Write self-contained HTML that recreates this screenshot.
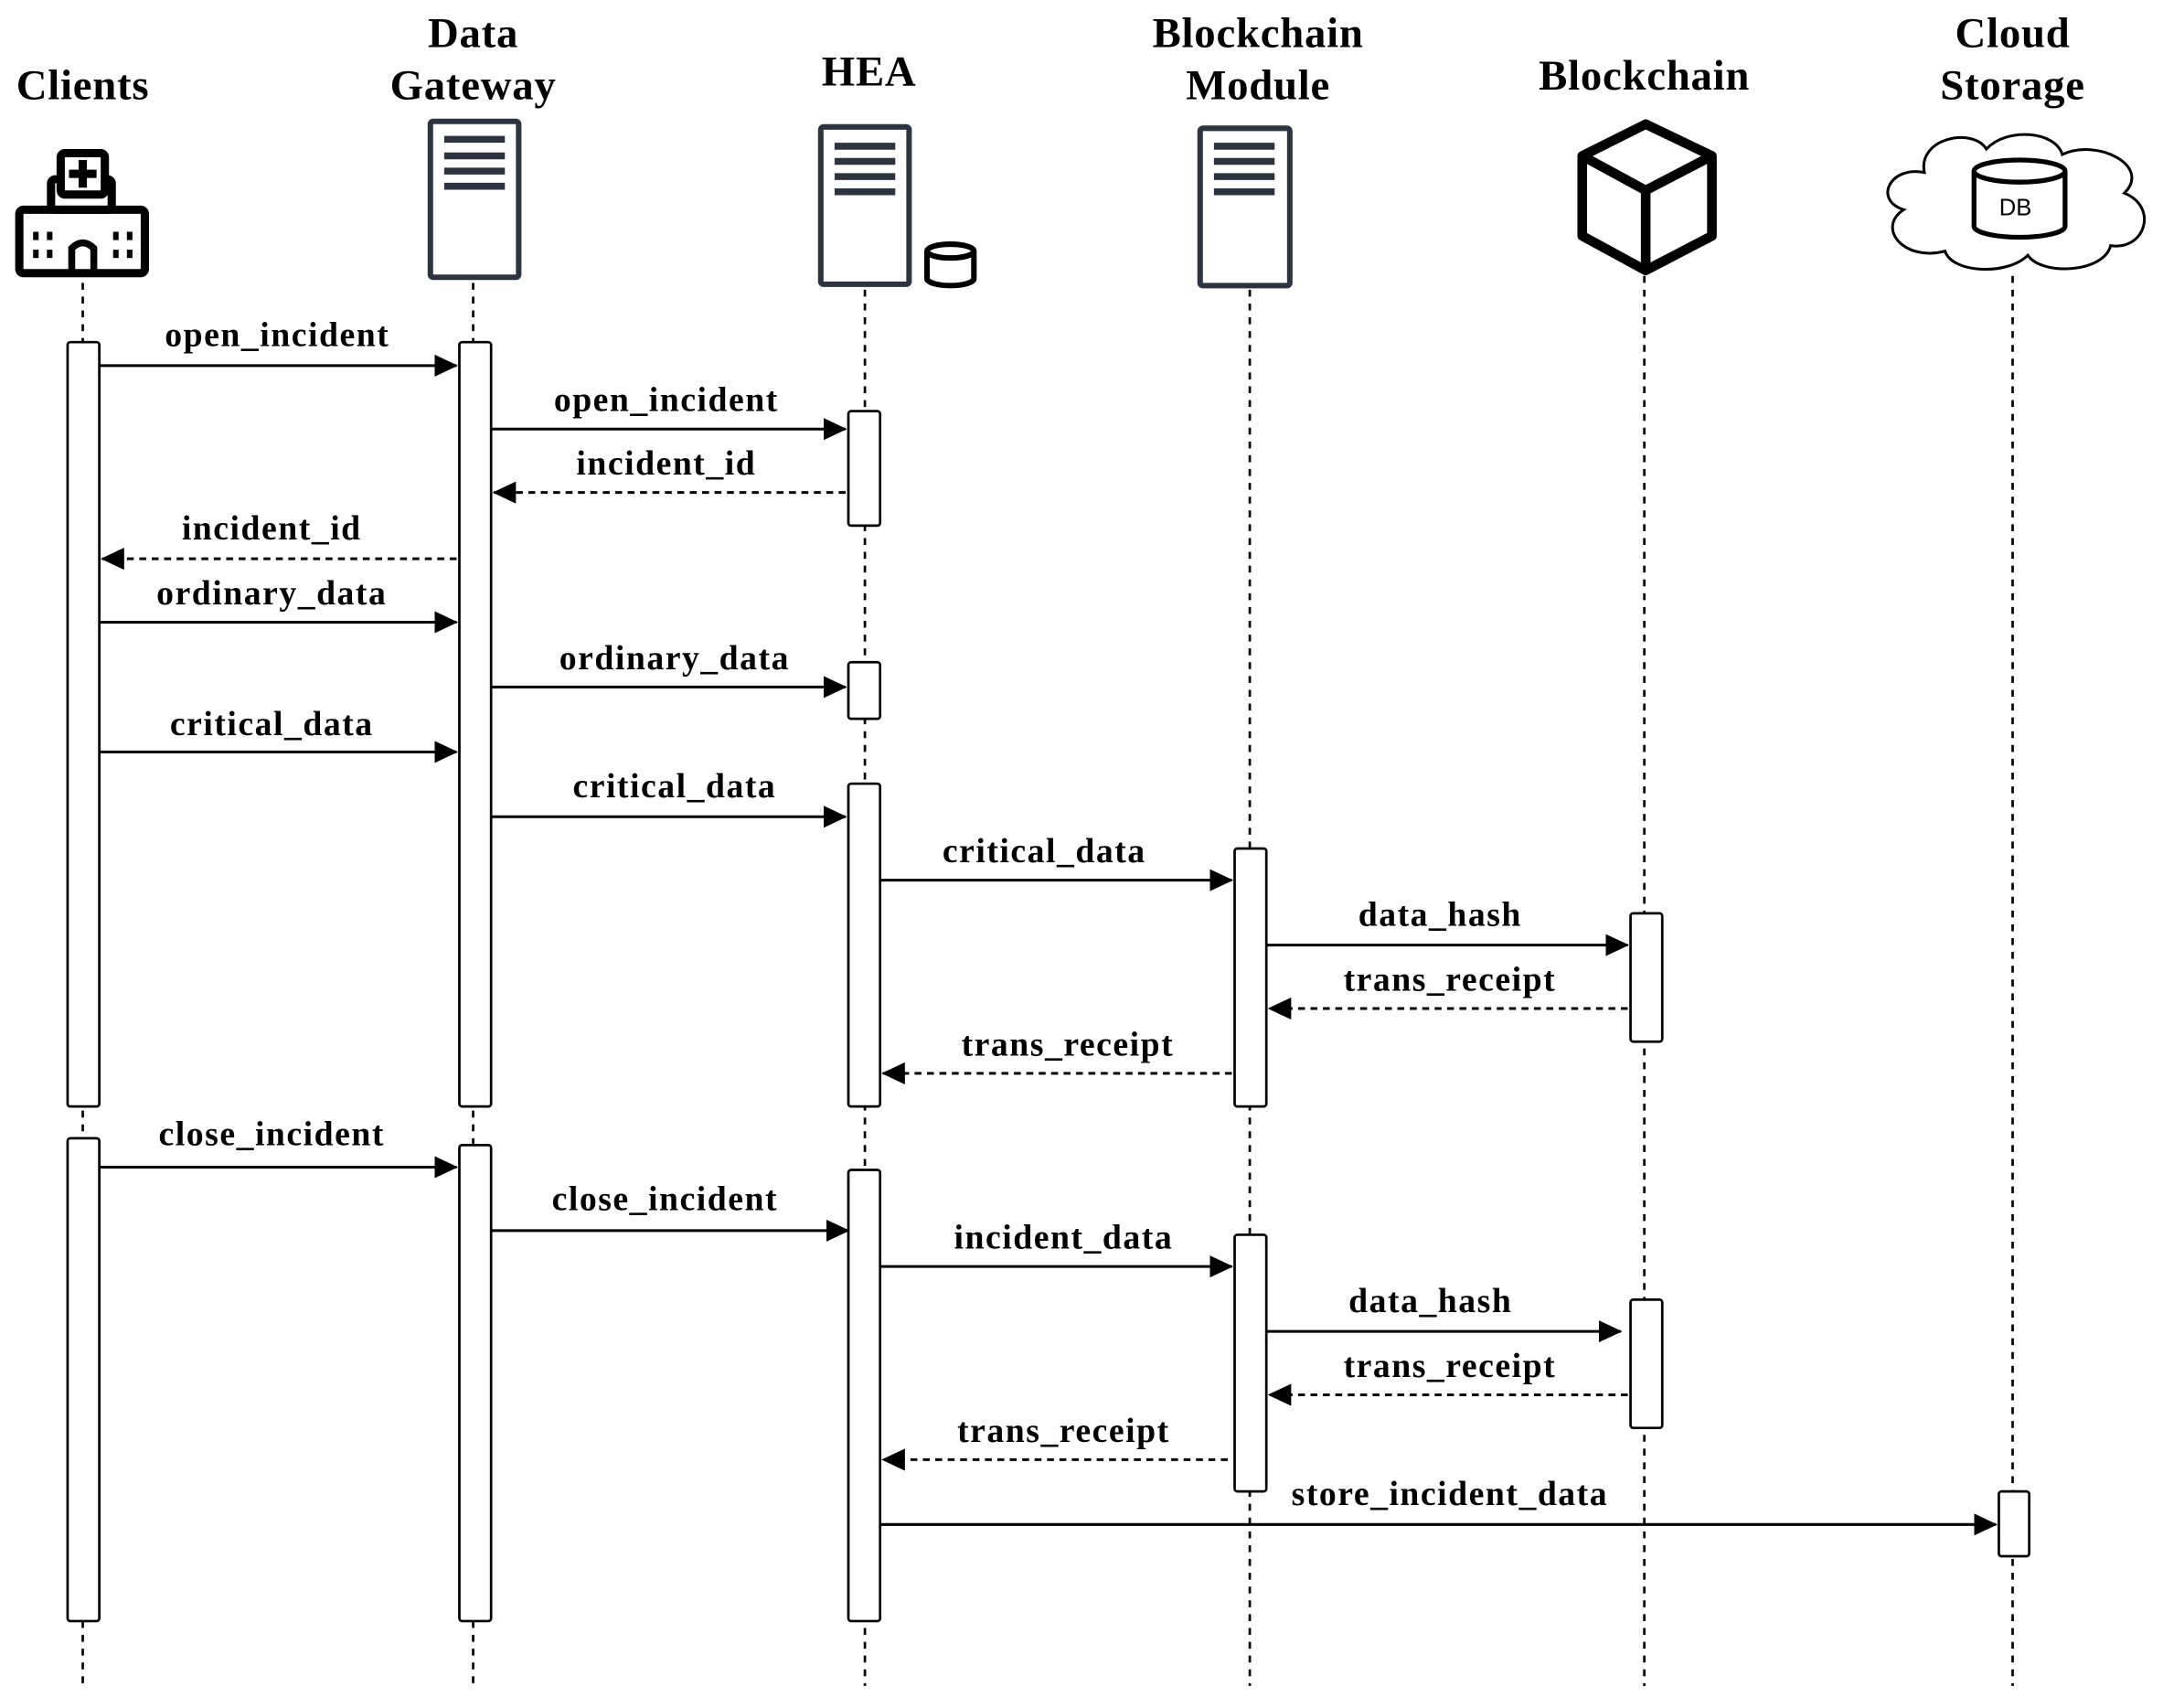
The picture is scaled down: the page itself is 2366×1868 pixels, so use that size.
<!DOCTYPE html>
<html><head><meta charset="utf-8"><style>html,body{margin:0;padding:0;background:#fff}svg{display:block}</style></head>
<body>
<svg width="2366" height="1868" viewBox="0 0 1568 1238" preserveAspectRatio="none" xmlns="http://www.w3.org/2000/svg">
<defs>
<marker id="a" markerWidth="17" markerHeight="16" refX="16" refY="8" orient="auto" markerUnits="userSpaceOnUse"><path d="M0,0 L17,8 L0,16 z" fill="#000"/></marker>
</defs>
<g font-family="Liberation Serif, serif" font-weight="bold" text-anchor="middle" fill="#000" letter-spacing="0.5">
<text x="60" y="72" font-size="31">Clients</text>
<text x="343" y="34" font-size="31">Data</text><text x="343" y="72" font-size="31">Gateway</text>
<text x="630" y="62" font-size="31">HEA</text>
<text x="912" y="34" font-size="31">Blockchain</text><text x="912" y="72" font-size="31">Module</text>
<text x="1192" y="65" font-size="31">Blockchain</text>
<text x="1459" y="34" font-size="31">Cloud</text><text x="1459" y="72" font-size="31">Storage</text>
</g>
<g stroke="#000" stroke-width="1.8" stroke-dasharray="5,5">
<line x1="60" y1="205" x2="60" y2="1222"/><line x1="343" y1="205" x2="343" y2="1222"/>
<line x1="627" y1="210" x2="627" y2="1222"/><line x1="906" y1="210" x2="906" y2="1222"/>
<line x1="1192" y1="200" x2="1192" y2="1222"/><line x1="1459" y1="200" x2="1459" y2="1222"/>
</g>
<g fill="none" stroke="#000" stroke-width="6">
<rect x="14" y="152" width="91" height="46" rx="3"/>
<rect x="37" y="130" width="44" height="22" rx="3"/>
<rect x="44" y="111" width="32" height="30" rx="3" fill="#fff"/>
</g>
<g fill="#000">
<rect x="57" y="116" width="6" height="20"/><rect x="50" y="123" width="20" height="6"/>
<rect x="24" y="168" width="4" height="6"/><rect x="34" y="168" width="4" height="6"/><rect x="24" y="181" width="4" height="6"/><rect x="34" y="181" width="4" height="6"/>
<rect x="82" y="168" width="4" height="6"/><rect x="92" y="168" width="4" height="6"/><rect x="82" y="181" width="4" height="6"/><rect x="92" y="181" width="4" height="6"/>
</g>
<path d="M52,198 V180 Q60,172 68,180 V198" fill="none" stroke="#000" stroke-width="5"/>
<g fill="#fff" stroke="#2b3440" stroke-width="4">
<rect x="312" y="88" width="64" height="113" rx="2"/>
<rect x="595" y="92" width="64" height="114" rx="2"/>
<rect x="870" y="93" width="65" height="114" rx="2"/>
</g>
<g stroke="#2b3440" stroke-width="5">
<line x1="322" y1="101" x2="366" y2="101"/><line x1="322" y1="113" x2="366" y2="113"/><line x1="322" y1="124" x2="366" y2="124"/><line x1="322" y1="135" x2="366" y2="135"/>
<line x1="605" y1="106" x2="649" y2="106"/><line x1="605" y1="117" x2="649" y2="117"/><line x1="605" y1="128" x2="649" y2="128"/><line x1="605" y1="139" x2="649" y2="139"/>
<line x1="880" y1="106" x2="924" y2="106"/><line x1="880" y1="117" x2="924" y2="117"/><line x1="880" y1="128" x2="924" y2="128"/><line x1="880" y1="139" x2="924" y2="139"/>
</g>
<g fill="#fff" stroke="#000" stroke-width="4">
<path d="M672,182 V202 A17,5 0 0 0 706,202 V182"/><ellipse cx="689" cy="182" rx="17" ry="5"/>
</g>
<g fill="none" stroke="#000" stroke-width="7" stroke-linejoin="round">
<path d="M1193,90 L1241,113 L1241,171 L1193,196 L1147,171 L1147,113 Z"/>
<path d="M1147,113 L1193,138 L1241,113 M1193,138 V196"/>
</g>
<path d="M1395,125 C1390,100 1430,92 1440,108 C1455,92 1490,95 1495,112 C1520,100 1560,120 1540,140 C1565,150 1555,182 1530,178 C1525,198 1480,200 1470,185 C1455,200 1415,198 1410,182 C1380,190 1360,165 1380,152 C1358,145 1370,120 1395,125 Z" fill="#fff" stroke="#000" stroke-width="2"/>
<g fill="#fff" stroke="#000" stroke-width="3.5">
<path d="M1431,124 V164 A33,8 0 0 0 1497,164 V124"/><ellipse cx="1464" cy="124" rx="33" ry="8"/>
</g>
<text x="1461" y="156" font-family="Liberation Sans, sans-serif" font-size="17" text-anchor="middle">DB</text>
<g fill="#fff" stroke="#000" stroke-width="1.8">
<rect x="49" y="248" width="23" height="554" rx="2"/><rect x="49" y="825" width="23" height="350" rx="2"/>
<rect x="333" y="248" width="23" height="554" rx="2"/><rect x="333" y="830" width="23" height="345" rx="2"/>
<rect x="615" y="298" width="23" height="83" rx="2"/><rect x="615" y="480" width="23" height="41" rx="2"/>
<rect x="615" y="568" width="23" height="234" rx="2"/><rect x="615" y="848" width="23" height="327" rx="2"/>
<rect x="895" y="615" width="23" height="187" rx="2"/><rect x="895" y="895" width="23" height="186" rx="2"/>
<rect x="1182" y="662" width="23" height="93" rx="2"/><rect x="1182" y="942" width="23" height="93" rx="2"/>
<rect x="1449" y="1081" width="22" height="47" rx="2"/>
</g>
<g stroke="#000" stroke-width="2" marker-end="url(#a)">
<line x1="72" y1="265" x2="331" y2="265"/>
<line x1="356" y1="311" x2="613" y2="311"/>
<line x1="613" y1="357" x2="358" y2="357" stroke-dasharray="5,4"/>
<line x1="331" y1="405" x2="74" y2="405" stroke-dasharray="5,4"/>
<line x1="72" y1="451" x2="331" y2="451"/>
<line x1="356" y1="498" x2="613" y2="498"/>
<line x1="72" y1="545" x2="331" y2="545"/>
<line x1="356" y1="592" x2="613" y2="592"/>
<line x1="638" y1="638" x2="893" y2="638"/>
<line x1="918" y1="685" x2="1180" y2="685"/>
<line x1="1180" y1="731" x2="920" y2="731" stroke-dasharray="5,4"/>
<line x1="893" y1="778" x2="640" y2="778" stroke-dasharray="5,4"/>
<line x1="72" y1="846" x2="331" y2="846"/>
<line x1="356" y1="892" x2="615" y2="892"/>
<line x1="638" y1="918" x2="893" y2="918"/>
<line x1="918" y1="965" x2="1175" y2="965"/>
<line x1="1180" y1="1011" x2="920" y2="1011" stroke-dasharray="5,4"/>
<line x1="890" y1="1058" x2="640" y2="1058" stroke-dasharray="5,4"/>
<line x1="638" y1="1105" x2="1447" y2="1105"/>
</g>
<g font-family="Liberation Serif, serif" font-weight="bold" font-size="25" text-anchor="middle" fill="#000" letter-spacing="1">
<text x="201" y="251">open_incident</text>
<text x="483" y="298">open_incident</text>
<text x="483" y="344">incident_id</text>
<text x="197" y="391">incident_id</text>
<text x="197" y="438">ordinary_data</text>
<text x="489" y="485">ordinary_data</text>
<text x="197" y="533">critical_data</text>
<text x="489" y="578">critical_data</text>
<text x="757" y="625">critical_data</text>
<text x="1044" y="671">data_hash</text>
<text x="1051" y="718">trans_receipt</text>
<text x="774" y="765">trans_receipt</text>
<text x="197" y="830">close_incident</text>
<text x="482" y="877">close_incident</text>
<text x="771" y="905">incident_data</text>
<text x="1037" y="951">data_hash</text>
<text x="1051" y="998">trans_receipt</text>
<text x="771" y="1045">trans_receipt</text>
<text x="1051" y="1091">store_incident_data</text>
</g>
</svg>
</body></html>
